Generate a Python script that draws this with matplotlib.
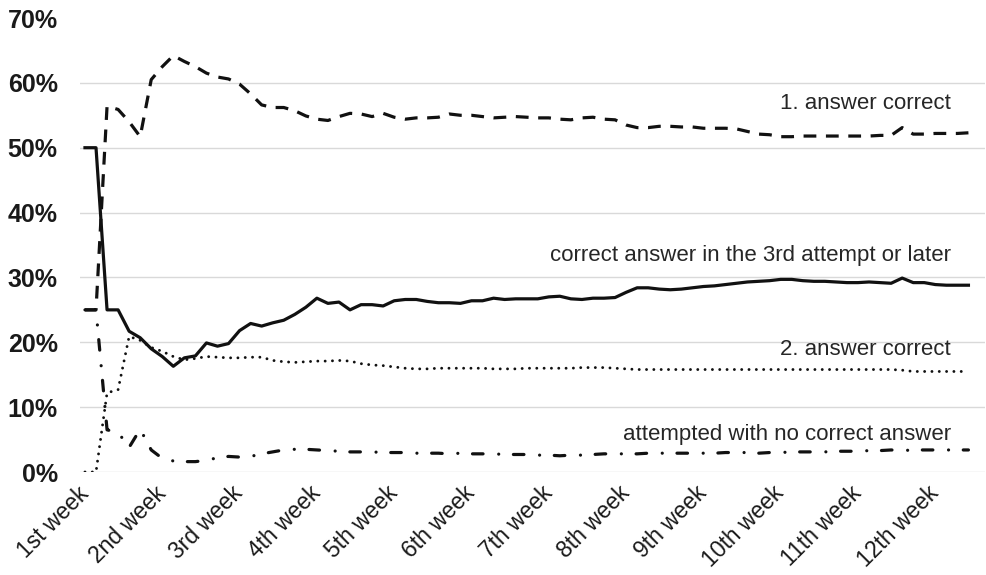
import matplotlib
matplotlib.use("Agg")
import matplotlib.pyplot as plt
from matplotlib.transforms import ScaledTranslation
import numpy as np

plt.rcParams['font.family'] = ['Liberation Sans', 'DejaVu Sans']

week_labels = ["1st week", "2nd week", "3rd week", "4th week", "5th week", "6th week",
               "7th week", "8th week", "9th week", "10th week", "11th week", "12th week"]

first_correct = [25, 25, 56.4, 55.9, 54.0, 51.7, 60.5, 62.5, 64.2, 63.3,
                 62.5, 61.5, 60.9, 60.6, 59.8, 58.3, 56.6, 56.2, 56.2, 55.7,
                 54.9, 54.4, 54.2, 54.8, 55.3, 55.2, 54.8, 55.3, 54.7, 54.4,
                 54.6, 54.6, 54.7, 55.2, 55.0, 55.0, 54.8, 54.6, 54.7, 54.8,
                 54.7, 54.6, 54.6, 54.4, 54.3, 54.6, 54.7, 54.4, 54.3, 53.5,
                 53.1, 53.1, 53.3, 53.3, 53.2, 53.2, 53.0, 53.0, 53.0, 52.9,
                 52.5, 52.1, 52.0, 51.7, 51.7, 51.8, 51.8, 51.8, 51.8, 51.8,
                 51.8, 51.8, 51.9, 51.9, 53.1, 52.1, 52.1, 52.2, 52.2, 52.2,
                 52.3]

third_or_later = [50.0, 50.0, 25.0, 25.0, 21.7, 20.7, 19.0, 17.8, 16.3, 17.6,
                  17.9, 19.9, 19.4, 19.8, 21.8, 22.9, 22.5, 23.0, 23.4, 24.3,
                  25.4, 26.8, 26.0, 26.2, 25.0, 25.8, 25.8, 25.6, 26.4, 26.6,
                  26.6, 26.3, 26.1, 26.1, 26.0, 26.4, 26.4, 26.8, 26.6, 26.7,
                  26.7, 26.7, 27.0, 27.1, 26.7, 26.6, 26.8, 26.8, 26.9, 27.7,
                  28.4, 28.4, 28.2, 28.1, 28.2, 28.4, 28.6, 28.7, 28.9, 29.1,
                  29.3, 29.4, 29.5, 29.7, 29.7, 29.5, 29.4, 29.4, 29.3, 29.2,
                  29.2, 29.3, 29.2, 29.1, 29.9, 29.2, 29.2, 28.9, 28.8, 28.8,
                  28.8]

second_correct = [0, 0, 12.2, 12.7, 20.9, 20.3, 19.2, 18.6, 17.8, 17.3,
                  17.5, 17.8, 17.7, 17.6, 17.6, 17.7, 17.7, 17.2, 17.0, 16.9,
                  17.0, 17.1, 17.1, 17.2, 17.1, 16.7, 16.5, 16.4, 16.2, 16.0,
                  15.9, 15.9, 16.0, 16.0, 16.0, 16.0, 16.0, 15.9, 15.9, 15.9,
                  16.0, 16.0, 16.0, 16.0, 16.0, 16.1, 16.1, 16.1, 16.0, 15.9,
                  15.8, 15.8, 15.8, 15.8, 15.8, 15.8, 15.8, 15.8, 15.8, 15.8,
                  15.8, 15.8, 15.8, 15.8, 15.8, 15.8, 15.8, 15.8, 15.8, 15.8,
                  15.8, 15.8, 15.8, 15.8, 15.7, 15.5, 15.5, 15.5, 15.5, 15.5,
                  15.5]

no_correct = [25, 25, 6.5, 6.1, 3.8, 6.6, 3.4, 2.1, 1.7, 1.6,
              1.6, 1.8, 2.2, 2.4, 2.3, 2.4, 2.8, 3.1, 3.4, 3.5,
              3.5, 3.4, 3.3, 3.2, 3.1, 3.1, 3.1, 3.0, 3.0, 3.0,
              2.9, 2.9, 2.9, 2.8, 2.9, 2.8, 2.8, 2.8, 2.7, 2.7,
              2.7, 2.6, 2.6, 2.5, 2.6, 2.6, 2.7, 2.8, 2.8, 2.8,
              2.8, 2.9, 2.9, 2.9, 2.9, 2.9, 2.9, 2.9, 3.0, 3.0,
              3.0, 2.9, 3.0, 3.0, 3.1, 3.1, 3.1, 3.1, 3.2, 3.2,
              3.2, 3.3, 3.3, 3.4, 3.3, 3.4, 3.4, 3.4, 3.4, 3.4,
              3.4]

labels = ["1. answer correct", "correct answer in the 3rd attempt or later",
          "2. answer correct", "attempted with no correct answer"]
label_y = [55.95, 32.5, 18.1, 4.95]

n = len(first_correct)
x = np.arange(n)

fig = plt.figure(figsize=(9.86, 5.75), dpi=100)
ax = fig.add_axes([80/986, 103/575, 905/986, 454/575])

line_color = '#111111'
lw = 2.3
ax.plot(x, first_correct, color=line_color, lw=lw, linestyle=(0, (4.0, 3.0)),
        dash_capstyle='butt', solid_joinstyle='round')
ax.plot(x, third_or_later, color=line_color, lw=lw, solid_joinstyle='round')
ax.plot(x, second_correct, color=line_color, lw=2.1, linestyle=(0, (0.01, 2.5)),
        dash_capstyle='round')
ax.plot(x, no_correct, color=line_color, lw=lw, linestyle=(0, (3.3, 4.9, 0.01, 4.6)),
        dash_capstyle='round')

ax.set_ylim(0, 70)
ax.set_xlim(-0.45, 81.5)
ax.set_yticks(np.arange(0, 71, 10))
ax.set_yticklabels([f"{v}%" for v in range(0, 71, 10)], fontweight='bold', fontsize=18,
                   color='#1a1a1a')
for v in range(0, 61, 10):
    ax.axhline(v, color='#d9d9d9', lw=1.0, zorder=0)

ax.set_xticks(np.arange(0, 7 * len(week_labels), 7))
ax.set_xticklabels(week_labels, rotation=45, ha='right', va='center',
                   rotation_mode='anchor', fontsize=16.5, color='#1a1a1a')
off = ScaledTranslation(-0.04, 0, fig.dpi_scale_trans)
for t in ax.get_xticklabels():
    t.set_transform(t.get_transform() + off)

ax.tick_params(axis='both', length=0)
ax.tick_params(axis='y', pad=16)
ax.tick_params(axis='x', pad=13)
for s in ax.spines.values():
    s.set_visible(False)

for txt, yy in zip(labels, label_y):
    ax.text(78.4, yy, txt, ha='right', va='baseline', fontsize=16, color='#262626')

fig.savefig("out.png", dpi=100)
